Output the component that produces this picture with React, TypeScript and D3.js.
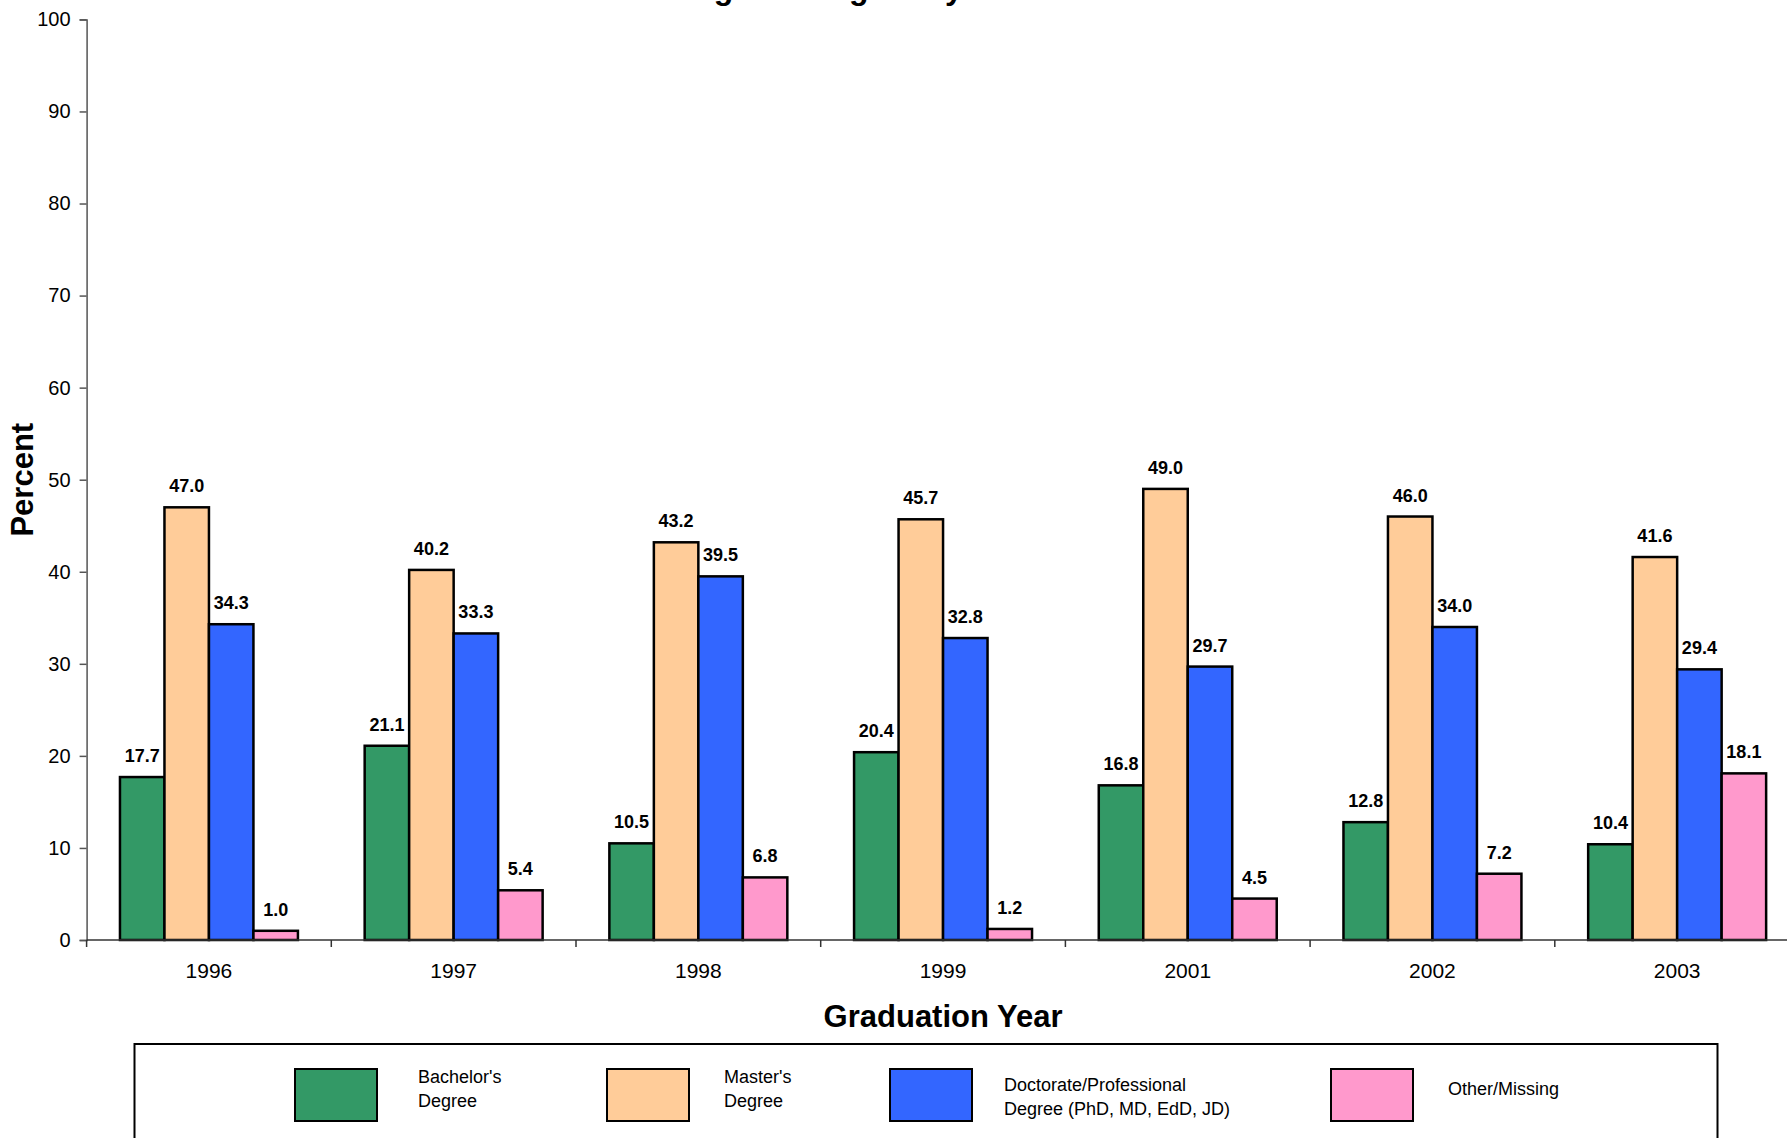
import React, { useEffect, useRef } from "react";
import * as d3 from "d3";

const years = ["1996", "1997", "1998", "1999", "2001", "2002", "2003"];
const seriesNames = [
  "Bachelor's Degree",
  "Master's Degree",
  "Doctorate/Professional Degree (PhD, MD, EdD, JD)",
  "Other/Missing",
];
const bachelors = [17.7, 21.1, 10.5, 20.4, 16.8, 12.8, 10.4];
const masters = [47.0, 40.2, 43.2, 45.7, 49.0, 46.0, 41.6];
const doctorate = [34.3, 33.3, 39.5, 32.8, 29.7, 34.0, 29.4];
const other = [1.0, 5.4, 6.8, 1.2, 4.5, 7.2, 18.1];
const yTicks = [0, 10, 20, 30, 40, 50, 60, 70, 80, 90, 100];
const legendLines = [
  ["Bachelor's", "Degree"],
  ["Master's", "Degree"],
  ["Doctorate/Professional", "Degree (PhD, MD, EdD, JD)"],
  ["Other/Missing"],
];
const colors = ["#339966", "#FFCC99", "#3366FF", "#FF99CC"];

const FONT = "'Liberation Sans', Arial, sans-serif";

const Chart: React.FC = () => {
  const chartRef = useRef<SVGSVGElement | null>(null);

  useEffect(() => {
    const width = 1787;
    const height = 1138;
    const plot = { left: 86.6, right: 1799.5, top: 19.4, bottom: 940 };

    const svg = d3.select(chartRef.current);
    svg.selectAll("*").remove();
    svg.attr("width", width).attr("height", height);

    const values = [bachelors, masters, doctorate, other];

    const x0 = d3
      .scaleBand<string>()
      .domain(years)
      .range([plot.left, plot.right])
      .paddingInner(1.5 / 5.5)
      .paddingOuter(0.75 / 5.5);

    const x1 = d3
      .scaleBand<number>()
      .domain(d3.range(seriesNames.length))
      .range([0, x0.bandwidth()]);

    const y = d3
      .scaleLinear()
      .domain([0, 100])
      .range([plot.bottom, plot.top]);

    // title, mostly cut off at the top edge
    svg
      .append("text")
      .attr("x", 950)
      .attr("y", -1)
      .attr("text-anchor", "middle")
      .style("font-family", FONT)
      .style("font-weight", "bold")
      .style("font-size", "32px")
      .text("Highest Degree by Graduation Year");

    // y axis
    const yAxis = svg
      .append("g")
      .attr("transform", `translate(${plot.left},0)`)
      .call(d3.axisLeft(y).tickValues(yTicks).tickSize(7).tickPadding(9));
    yAxis.select(".domain").attr("stroke", "#555").attr("stroke-width", 1.5);
    yAxis.selectAll(".tick line").attr("stroke", "#555").attr("stroke-width", 1.5);
    yAxis
      .selectAll(".tick text")
      .style("font-family", FONT)
      .style("font-size", "20px")
      .attr("fill", "#000");

    // bars
    const groups = svg
      .append("g")
      .selectAll("g")
      .data(years)
      .enter()
      .append("g")
      .attr("transform", (d) => `translate(${x0(d)},0)`);

    groups
      .selectAll("rect")
      .data((_d, i) => values.map((s, k) => ({ k, v: s[i] })))
      .enter()
      .append("rect")
      .attr("x", (d) => x1(d.k) as number)
      .attr("y", (d) => y(d.v))
      .attr("width", x1.bandwidth())
      .attr("height", (d) => plot.bottom - y(d.v))
      .attr("fill", (d) => colors[d.k])
      .attr("stroke", "#000")
      .attr("stroke-width", 2.5);

    groups
      .selectAll("text")
      .data((_d, i) => values.map((s, k) => ({ k, v: s[i] })))
      .enter()
      .append("text")
      .attr("x", (d) => (x1(d.k) as number) + x1.bandwidth() / 2)
      .attr("y", (d) => y(d.v) - 15)
      .attr("text-anchor", "middle")
      .style("font-family", FONT)
      .style("font-weight", "bold")
      .style("font-size", "18px")
      .text((d) => d.v.toFixed(1));

    // x axis
    const xAxis = svg.append("g");
    xAxis
      .append("line")
      .attr("x1", plot.left)
      .attr("x2", plot.right)
      .attr("y1", plot.bottom)
      .attr("y2", plot.bottom)
      .attr("stroke", "#333")
      .attr("stroke-width", 1.5);
    const step = x0.step();
    xAxis
      .selectAll("line.tk")
      .data(d3.range(years.length + 1))
      .enter()
      .append("line")
      .attr("class", "tk")
      .attr("x1", (i) => plot.left + i * step)
      .attr("x2", (i) => plot.left + i * step)
      .attr("y1", plot.bottom)
      .attr("y2", plot.bottom + 7)
      .attr("stroke", "#333")
      .attr("stroke-width", 1.5);
    xAxis
      .selectAll("text")
      .data(years)
      .enter()
      .append("text")
      .attr("x", (d) => (x0(d) as number) + x0.bandwidth() / 2)
      .attr("y", 978)
      .attr("text-anchor", "middle")
      .style("font-family", FONT)
      .style("font-size", "21px")
      .text((d) => d);

    // axis titles
    svg
      .append("text")
      .attr("x", (plot.left + plot.right) / 2)
      .attr("y", 1027)
      .attr("text-anchor", "middle")
      .style("font-family", FONT)
      .style("font-weight", "bold")
      .style("font-size", "31px")
      .text("Graduation Year");

    svg
      .append("text")
      .attr("transform", `translate(33,${(plot.top + plot.bottom) / 2}) rotate(-90)`)
      .attr("text-anchor", "middle")
      .style("font-family", FONT)
      .style("font-weight", "bold")
      .style("font-size", "31px")
      .text("Percent");

    // legend
    const legend = svg.append("g");
    legend
      .append("rect")
      .attr("x", 134.5)
      .attr("y", 1044)
      .attr("width", 1717.5 - 134.5)
      .attr("height", 120)
      .attr("fill", "none")
      .attr("stroke", "#000")
      .attr("stroke-width", 2);

    const swatchX = [295, 607, 890, 1331];
    const textX = [418, 724, 1004, 1448];
    const textY = [1083, 1083, 1091, 1095];

    seriesNames.forEach((_name, k) => {
      legend
        .append("rect")
        .attr("x", swatchX[k])
        .attr("y", 1069)
        .attr("width", 82)
        .attr("height", 52)
        .attr("fill", colors[k])
        .attr("stroke", "#000")
        .attr("stroke-width", 2);
      const t = legend
        .append("text")
        .attr("x", textX[k])
        .attr("y", textY[k])
        .style("font-family", FONT)
        .style("font-size", "18px");
      legendLines[k].forEach((line, j) => {
        t.append("tspan")
          .attr("x", textX[k])
          .attr("dy", j === 0 ? 0 : 24)
          .text(line);
      });
    });
  }, []);

  return (
    <svg
      ref={chartRef}
      style={{ position: "absolute", left: 0, top: 0, background: "#fff" }}
    />
  );
};

export default function App() {
  return <Chart />;
}
